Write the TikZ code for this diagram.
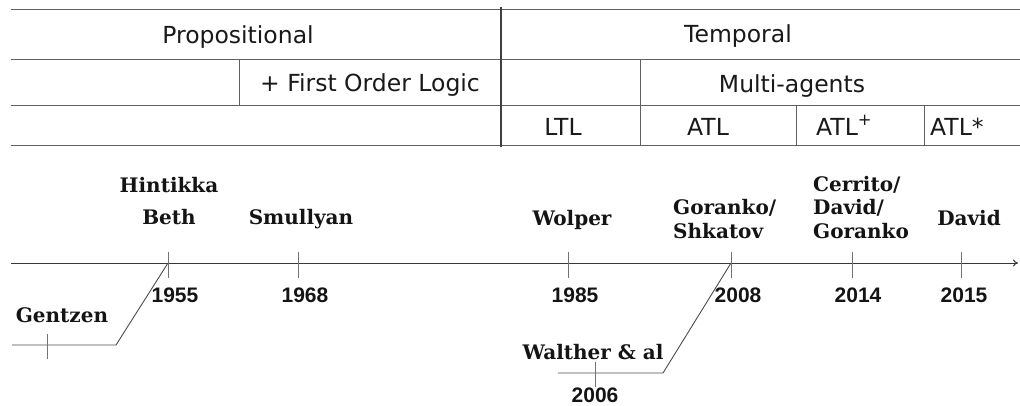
\documentclass[tikz,border=0pt]{standalone}
\usepackage{fontspec}
\setmainfont{DejaVu Sans}
\newfontfamily\namefont{DejaVu Serif}
\newfontfamily\yearfont{Liberation Sans}
\usetikzlibrary{arrows.meta}
\begin{document}
\begin{tikzpicture}[x=1pt,y=-1pt,
  rule/.style={draw=black!62, line width=1pt},
  divider/.style={draw=black!75, line width=2pt},
  axisline/.style={draw=black!78, line width=1pt},
  tickmark/.style={draw=black!55, line width=1pt},
  link/.style={draw=black!70, line width=0.9pt},
  cell/.style={font=\fontsize{23.5}{28}\selectfont, text=black!90, inner sep=0pt, anchor=base},
  who/.style={font=\namefont\bfseries\fontsize{20}{24}\selectfont, text=black!92, inner sep=0pt},
  yr/.style={font=\yearfont\bfseries\fontsize{21}{25}\selectfont, text=black!92, inner sep=0pt, anchor=base}]
\useasboundingbox (0,0) rectangle (1020,405);
% ---- table ----
\draw[rule] (11,9) -- (1020,9);
\draw[rule] (11,59) -- (1020,59);
\draw[rule] (11,105) -- (1020,105);
\draw[rule] (11,145) -- (1020,145);
\draw[rule] (239,59) -- (239,105);
\draw[rule] (640,59) -- (640,145);
\draw[rule] (796,105) -- (796,145);
\draw[rule] (924,105) -- (924,145);
\draw[divider] (501,7) -- (501,147);
\node[cell] (prop) at (238,43) {Propositional};
\node[cell] (fol) at (370,91) {+ First Order Logic};
\node[cell] (temp) at (738,42) {Temporal};
\node[cell] (multi) at (792,92) {Multi-agents};
\node[cell] (ltl) at (563,135) {LTL};
\node[cell] (atl) at (708,135) {ATL};
\node[cell,anchor=base west] (atlp) at (816,135) {ATL\textsuperscript{+}};
\node[cell,anchor=base west] (atls) at (930,135) {ATL*};
% ---- timeline ----
\coordinate (axL) at (11,263);
\coordinate (axR) at (1018,263);
\coordinate (t1955) at (168,263);
\coordinate (t1968) at (298,263);
\coordinate (t1985) at (568,263);
\coordinate (t2008) at (731,263);
\coordinate (t2014) at (852,263);
\coordinate (t2015) at (961,263);
\coordinate (gL) at (12,345);
\coordinate (gB) at (116,345);
\coordinate (t1934) at (47,345);
\coordinate (wL) at (558,373);
\coordinate (wB) at (663,373);
\coordinate (t2006) at (595,373);
\draw[axisline,-{To[length=5pt,width=7pt]}] (axL) -- (axR);
\foreach \t in {t1955,t1968,t1985,t2008,t2014,t2015}
  \draw[tickmark] ([yshift=11pt]\t) -- ([yshift=-15pt]\t);
\draw[link] (gL) -- (gB) -- (t1955);
\draw[tickmark] ([yshift=11pt]t1934) -- ([yshift=-14pt]t1934);
\draw[link] (wL) -- (wB) -- (t2008);
\draw[tickmark] ([yshift=11pt]t2006) -- ([yshift=-14pt]t2006);
% names
\node[who,align=center,anchor=base] (hb) at (169,224) {Hintikka\\[8pt]Beth};
\node[who,anchor=base] (smu) at (301,224) {Smullyan};
\node[who,anchor=base] (wol) at (572,225) {Wolper};
\node[who,align=left,anchor=base west] (gs) at (673,238) {Goranko/\\Shkatov};
\node[who,align=left,anchor=base west] (cdg) at (813,238) {Cerrito/\\[-0.5pt]David/\\[-0.5pt]Goranko};
\node[who,anchor=base] (dav) at (969,225) {David};
\node[who,anchor=base] (gen) at (62,322) {Gentzen};
\node[who,anchor=base] (wal) at (593,359) {Walther \& al};
% years
\node[yr] (y1955) at (175,302) {1955};
\node[yr] (y1968) at (305,302) {1968};
\node[yr] (y1985) at (575,302) {1985};
\node[yr] (y2008) at (738,302) {2008};
\node[yr] (y2014) at (858,302) {2014};
\node[yr] (y2015) at (964,302) {2015};
\node[yr] (y2006) at (595,402) {2006};
\end{tikzpicture}
\end{document}
